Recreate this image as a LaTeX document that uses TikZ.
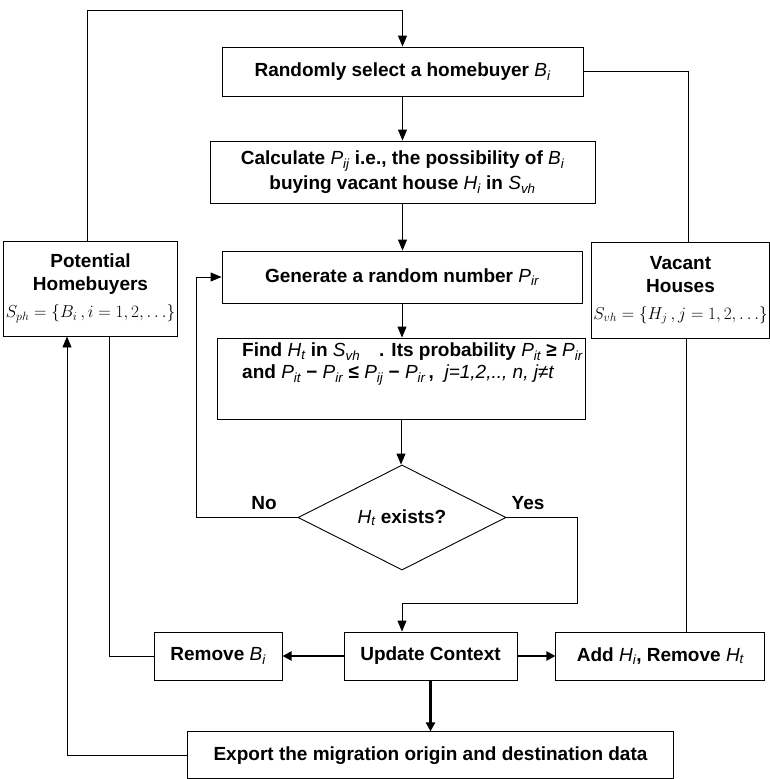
\documentclass[tikz,border=0pt]{standalone}
\usepackage{fontspec}
\setmainfont{Liberation Sans}
\usepackage{tikz}
\usetikzlibrary{arrows.meta, positioning, shapes.geometric}

% sans italic variable with subscript
\newcommand{\vr}[2]{{\mdseries\itshape #1\textsubscript{#2}}}

\tikzset{
  box/.style={draw, line width=0.9pt, align=center, inner sep=2pt,
    font=\bfseries\fontsize{19}{23}\selectfont},
  decision/.style={diamond, draw, line width=0.9pt, aspect=2, inner sep=0pt,
    font=\bfseries\fontsize{19}{23}\selectfont},
  lbl/.style={font=\bfseries\fontsize{19}{23}\selectfont},
  line/.style={draw, line width=0.9pt},
  arrow/.style={line, -{Triangle[length=11pt,width=9pt]}},
  bigarrow/.style={draw, line width=2.2pt, -{Triangle[length=9pt,width=9pt]}}
}

\begin{document}
\begin{tikzpicture}[x=1pt, y=-1pt]
    \useasboundingbox (0,0) rectangle (770,779);

    % main column
    \node[box, minimum width=361, minimum height=49] (select) at (402.5,71.5) {Randomly select a homebuyer \vr{B}{i}};
    \node[box, minimum width=385, minimum height=62, font=\bfseries\fontsize{19}{25}\selectfont] (calc) at (402.5,172)
        {Calculate \vr{P}{ij} i.e., the possibility of \vr{B}{i}\\buying vacant house \vr{H}{i} in \vr{S}{vh}};
    \node[box, minimum width=360, minimum height=52] (gen) at (402,277) {Generate a random number \vr{P}{ir}};
    \node[box, minimum width=368, minimum height=81] (find) at (401,378.5) {};
    \node[lbl, anchor=north west, align=left, inner sep=0pt, font=\bfseries\fontsize{19}{22}\selectfont] (findtext) at (242,343)
        {Find \vr{H}{t} in \vr{S}{vh}\quad. Its probability \vr{P}{it} ≥ \vr{P}{ir}\\
         and \vr{P}{it} − \vr{P}{ir} ≤ \vr{P}{ij} − \vr{P}{ir}\,,\ \ {\mdseries\itshape j=1,2,.., n, j≠t}};
    \node[decision, minimum width=208, minimum height=105] (dec) at (402,517.5) {\vr{H}{t} exists?};

    % side boxes
    \node[box, minimum width=167, minimum height=95] (pot) at (90.5,288.5)
        {Potential\\Homebuyers\\[4pt]\fontsize{18}{22}\selectfont$S_{ph}=\bigl\{B_i\,, i=1, 2, \ldots\bigr\}$};
    \node[box, minimum width=175, minimum height=96] (vac) at (680.5,290)
        {Vacant\\Houses\\[4pt]\fontsize{18}{22}\selectfont$S_{vh}=\bigl\{H_j\,, j=1, 2, \ldots\bigr\}$};

    % bottom row
    \node[box, minimum width=173, minimum height=48] (upd) at (430.5,656) {Update Context};
    \node[box, minimum width=128, minimum height=48, left=61pt of upd] (rem) {Remove \vr{B}{i}};
    \node[box, minimum width=209, minimum height=48, right=38pt of upd] (add) {Add \vr{H}{i}, Remove \vr{H}{t}};
    \node[box, minimum width=486, minimum height=47, below=51pt of upd] (exp) {Export the migration origin and destination data};

    \node[lbl] (no) at (264,503) {No};
    \node[lbl] (yes) at (528,503) {Yes};
    \coordinate (looptop) at (402.5,10);
    \coordinate (yesturn) at (577,603);

    \draw[arrow] ([xshift=-3.5pt]pot.north) |- (looptop) -- (select.north);
    \draw[line] (select.east) -| ([xshift=8pt]vac.north);
    \draw[arrow] (select) -- (calc);
    \draw[arrow] (calc.south) -- (calc.south |- gen.north);
    \draw[arrow] (gen.south) -- (gen.south |- find.north);
    \draw[arrow] (find.south) -- (find.south |- dec.north);
    \draw[arrow] (dec.west) -- ++(-101,0) |- (gen.west);
    \draw[arrow] (dec.east) -| (yesturn) -| (dec.south |- upd.north);
    \draw[bigarrow] (upd.west) -- (rem.east);
    \draw[bigarrow] (upd.east) -- (add.west);
    \draw[bigarrow] (upd.south) -- (exp.north);
    \draw[line] ([xshift=6pt]vac.south) -- ([xshift=6pt]vac.south |- add.north);
    \draw[line] (rem.west) -| ([xshift=18.5pt]pot.south);
    \draw[arrow] (exp.west) -| ([xshift=-23.5pt]pot.south);
\end{tikzpicture}
\end{document}
